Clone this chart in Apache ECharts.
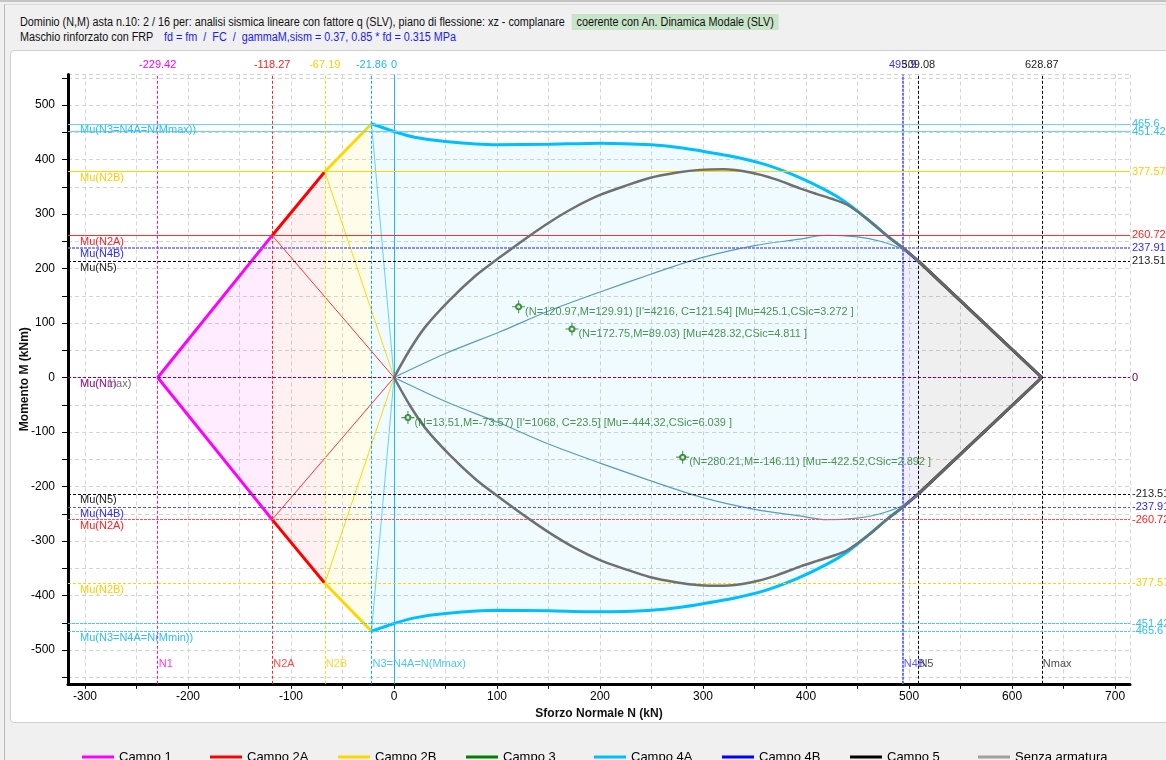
<!DOCTYPE html>
<html><head><meta charset="utf-8">
<script src="https://cdn.jsdelivr.net/npm/echarts@6/dist/echarts.min.js"></script>
<style>
html,body{margin:0;padding:0;width:1166px;height:760px;overflow:hidden;background:#f0f0f0;font-family:"Liberation Sans",Arial,sans-serif;}
#topbar{position:absolute;left:0;top:0;width:1166px;height:2px;background:#c4c4c4}
#frame{position:absolute;left:4px;top:4px;width:1200px;height:800px;border-left:1px solid #b8b8b8;border-top:1px solid #dadada}
.hdr{position:absolute;left:20px;font-size:12px;line-height:14px;color:#111;white-space:nowrap;transform:scaleX(0.9);transform-origin:0 0}
#badge{background:#c9e5c9;padding:1px 5px;margin-left:8px}
.blue{color:#1a1aff;margin-left:12px}
#panel{position:absolute;left:10px;top:50px;width:1200px;height:671px;background:#fff;border:1px solid #cfcfcf;border-radius:4px}
#chart{position:absolute;left:0;top:0;width:1166px;height:760px}
</style></head>
<body>
<div id="topbar"></div>
<div id="frame"></div>
<div class="hdr" style="top:15px">Dominio (N,M) asta n.10: 2 / 16 per: analisi sismica lineare con fattore q (SLV), piano di flessione: xz - complanare<span id="badge">coerente con An. Dinamica Modale (SLV)</span></div>
<div class="hdr" style="top:30px">Maschio rinforzato con FRP<span class="blue">fd = fm &nbsp;/&nbsp; FC &nbsp;/&nbsp; gammaM,sism = 0.37, 0.85 * fd = 0.315 MPa</span></div>
<div id="panel"></div>
<div id="chart"></div>
<script>
// ---------------- data ----------------
const N_VLINES = [-229.42, -118.27, -67.19, -21.86, 0, 493.9, 509.08, 628.87];
const N_TOP_LABELS = ['-229.42', '-118.27', '-67.19', '-21.86', '0', '493.9', '509.08', '628.87'];
const N_BOTTOM_LABELS = ['N1', 'N2A', 'N2B', 'N3=N4A=N(Mmax)', '', 'N4B', 'N5', 'Nmax'];
const N_BOTTOM_M = -525;

const M_LEVELS = [465.6, 451.42, 377.57, 260.72, 237.91, 213.51, 0, -213.51, -237.91, -260.72, -377.57, -451.42, -465.6];
const M_RIGHT_LABELS = ['465.6', '451.42', '377.57', '260.72', '237.91', '213.51', '0', '-213.51', '-237.91', '-260.72', '-377.57', '-451.42', '-465.6'];
const M_LEFT_LABELS = ['Mu(N3=N4A=N(Mmax))', '', 'Mu(N2B)', 'Mu(N2A)', 'Mu(N4B)', 'Mu(N5)', 'Mu(Nmax)', 'Mu(N5)', 'Mu(N4B)', 'Mu(N2A)', 'Mu(N2B)', '', 'Mu(N3=N4A=N(Mmin))'];

const campo1Up = [[-229.42, 0], [-118.27, 260.72]];
const campo1Lo = [[-229.42, 0], [-118.27, -260.72]];
const campo2AUp = [[-118.27, 260.72], [-67.19, 377.57]];
const campo2ALo = [[-118.27, -260.72], [-67.19, -377.57]];
const campo2BUp = [[-67.19, 377.57], [-21.86, 465.6]];
const campo2BLo = [[-67.19, -377.57], [-21.86, -465.6]];
const campo4AUp = [[-21.86, 465.6], [0, 451.42], [20, 441], [50, 433], [100, 427], [150, 428], [200, 430], [250, 427], [280, 421], [300, 415], [330, 405], [360, 391], [390, 370], [420, 343], [440, 320], [460, 290], [480, 258], [493.9, 237.91]];
const campo4ALo = [[-21.86, -465.6], [0, -451.42], [20, -441], [50, -433], [100, -427], [150, -428], [200, -430], [250, -427], [280, -421], [300, -415], [330, -405], [360, -391], [390, -370], [420, -343], [440, -320], [460, -290], [480, -258], [493.9, -237.91]];
const campo4BUp = [[493.9, 237.91], [509.08, 213.51]];
const campo4BLo = [[493.9, -237.91], [509.08, -213.51]];
const campo5Up = [[509.08, 213.51], [628.87, 0]];
const campo5Lo = [[509.08, -213.51], [628.87, 0]];

const senzaUp = [[0, 0], [15, 50], [30, 92], [54, 142], [80, 188], [103, 221], [130, 258], [151, 285], [175, 312], [200, 335], [225, 352], [248, 366], [275, 376], [297, 381], [320, 382], [346, 376], [370, 364], [394, 347], [410, 337], [425, 328], [440, 317], [460, 290], [480, 258], [493.9, 238], [509.08, 213.51]];
const senzaLo = [[0, 0], [15, -50], [30, -92], [54, -142], [80, -188], [103, -221], [130, -258], [151, -285], [175, -312], [200, -335], [225, -352], [248, -366], [275, -376], [297, -381], [320, -382], [346, -376], [370, -364], [394, -347], [410, -337], [425, -328], [440, -317], [460, -290], [480, -258], [493.9, -238], [509.08, -213.51]];
const thinUp = [[0, 0], [50, 44], [103, 84], [150, 122], [200, 157], [250, 190], [297, 219], [350, 242], [394, 254], [420, 261], [450, 258], [472, 250], [494, 235], [509.08, 213.51]];
const thinLo = [[0, 0], [50, -44], [103, -84], [150, -122], [200, -157], [250, -190], [297, -219], [350, -242], [394, -254], [420, -261], [450, -258], [472, -250], [494, -235], [509.08, -213.51]];

const ray2A = [[-118.27, 260.72], [0, 0], [-118.27, -260.72]];
const ray2B = [[-67.19, 377.57], [0, 0], [-67.19, -377.57]];
const ray3 = [[-21.86, 465.6], [0, 0], [-21.86, -465.6]];

const verifPoints = [[120.97, 129.91], [172.75, 89.03], [13.51, -73.57], [280.21, -146.11]];
const verifLabels = [
  "(N=120.97,M=129.91) [I'=4216, C=121.54] [Mu=425.1,CSic=3.272 ]",
  "(N=172.75,M=89.03) [Mu=428.32,CSic=4.811 ]",
  "(N=13.51,M=-73.57) [I'=1068, C=23.5] [Mu=-444.32,CSic=6.039 ]",
  "(N=280.21,M=-146.11) [Mu=-422.52,CSic=2.892 ]"
];
const legendNames = ['Campo 1', 'Campo 2A', 'Campo 2B', 'Campo 3', 'Campo 4A', 'Campo 4B', 'Campo 5', 'Senza armatura'];

// ---------------- styles ----------------
const FONT = '"Liberation Sans",Arial,sans-serif';
const C = {mag: '#ff00ff', red: '#ff0000', gold: '#ffd700', green: '#008000', cyan: '#00bfff', blue: '#0000ff', black: '#000000', gray: '#a0a0a0'};
const legendColors = [C.mag, C.red, C.gold, C.green, C.cyan, C.blue, C.black, C.gray];
const vStyle = [
  {color: '#ff00ff', type: [3, 2], width: 1},
  {color: '#ff2020', type: [3, 2], width: 1},
  {color: '#ffd700', type: [3, 2], width: 1},
  {color: '#00b0f0', type: [3, 2], width: 1},
  {color: '#20b8f0', type: 'solid', width: 1},
  {color: '#7070ff', type: [3, 1], width: 2},
  {color: '#000000', type: [3, 2], width: 1},
  {color: '#000000', type: [3, 2], width: 1}
];
const vLabelColor = ['#ff00ff', '#ff2020', '#ffcc00', '#20b8f0', '#20b8f0', '#3333ff', '#222', '#222'];
const hStyle = [
  {color: '#66d4ff', type: 'solid', width: 1},
  {color: '#66d4ff', type: 'solid', width: 1},
  {color: '#ffd700', type: 'solid', width: 1},
  {color: '#ff3030', type: 'solid', width: 1},
  {color: '#6a6aff', type: [3, 1], width: 1.5},
  {color: '#000000', type: [3, 2], width: 1},
  {color: '#800080', type: [3, 2], width: 1},
  {color: '#000000', type: [3, 2], width: 1},
  {color: '#5050ff', type: [3, 2], width: 1},
  {color: '#ff5050', type: [3, 1], width: 1},
  {color: '#ffd700', type: [3, 2], width: 1},
  {color: '#44c8ff', type: [3, 1], width: 1},
  {color: '#44c8ff', type: [3, 1], width: 1}
];
const hLabelColor = ['#2ec0f0', '#2ec0f0', '#ffcc00', '#ff2020', '#2a2aff', '#222', '#600060', '#222', '#2a2aff', '#ff2020', '#ffcc00', '#2ec0f0', '#2ec0f0'];
const HIDDEN = {color: 'rgba(0,0,0,0)', width: 0};

const markData = [];
N_VLINES.forEach((v, i) => {
  markData.push({xAxis: v, lineStyle: vStyle[i],
    label: {show: true, position: 'end', formatter: N_TOP_LABELS[i], color: vLabelColor[i], fontSize: 11, fontFamily: FONT, distance: 4}});
});
M_LEVELS.forEach((v, i) => {
  markData.push({yAxis: v, lineStyle: hStyle[i],
    label: {show: true, position: 'end', formatter: M_RIGHT_LABELS[i], color: hLabelColor[i], fontSize: 11, fontFamily: FONT, distance: 2}});
});
M_LEVELS.forEach((v, i) => {
  if (M_LEFT_LABELS[i]) {
    markData.push({yAxis: v, lineStyle: HIDDEN,
      label: {show: true, position: 'insideStartBottom', formatter: M_LEFT_LABELS[i], color: i === 6 ? 'rgba(0,0,0,0.6)' : hLabelColor[i], fontSize: 11, fontFamily: FONT, distance: 1, padding: [0, 0, 0, 11]}});
  }
});
markData.push({yAxis: 0, lineStyle: HIDDEN,
  label: {show: true, position: 'insideStartBottom', formatter: 'Mu(N1)', color: 'rgba(190,0,190,0.75)', fontSize: 11, fontFamily: FONT, distance: 1, padding: [0, 0, 0, 11]}});

function field(name, up, lo, color, fill, smooth) {
  const base = {type: 'line', name: name, color: color, symbol: 'none', silent: true, smooth: smooth || false,
    itemStyle: {color: color}, lineStyle: {color: color, width: 3}, areaStyle: {color: fill}, z: 3};
  return [Object.assign({data: up}, base), Object.assign({data: lo}, base)];
}
function curve(name, data, color, width, smooth, z) {
  return {type: 'line', name: name, data: data, color: color, symbol: 'none', silent: true,
    smooth: smooth, itemStyle: {color: color}, lineStyle: {color: color, width: width}, z: z};
}

const series = [].concat(
  field('Campo 1', campo1Up, campo1Lo, C.mag, 'rgba(255,0,255,0.10)'),
  field('Campo 2A', campo2AUp, campo2ALo, C.red, 'rgba(255,0,0,0.08)'),
  field('Campo 2B', campo2BUp, campo2BLo, C.gold, 'rgba(255,215,0,0.12)'),
  [{type: 'line', name: 'Campo 3', color: C.green, data: [], symbol: 'none', itemStyle: {color: C.green}, lineStyle: {color: C.green, width: 3}}],
  field('Campo 4A', campo4AUp, campo4ALo, C.cyan, 'rgba(0,191,255,0.09)', 0.2),
  field('Campo 4B', campo4BUp, campo4BLo, C.blue, 'rgba(0,0,255,0.09)'),
  field('Campo 5', campo5Up, campo5Lo, C.black, 'rgba(0,0,0,0.09)'),
  [
    curve('', ray2A, '#ff3030', 1, false, 4),
    curve('', ray2B, '#ffd700', 1, false, 4),
    curve('', ray3, '#60d0ff', 1, false, 4),
    curve('', thinUp, '#5a9cb8', 1.2, 0.3, 4),
    curve('', thinLo, '#5a9cb8', 1.2, 0.3, 4),
    curve('Senza armatura', senzaUp, '#707070', 2.5, 0.25, 5),
    curve('Senza armatura', senzaLo, '#707070', 2.5, 0.25, 5),
    curve('Senza armatura', campo5Up, '#666666', 3, false, 5),
    curve('Senza armatura', campo5Lo, '#666666', 3, false, 5),
    {type: 'line', name: '', data: [], silent: true, z: 2,
      markLine: {symbol: ['none', 'none'], silent: true, animation: false, data: markData}},
    {type: 'scatter', name: '', silent: true, z: 6, symbolSize: 0,
      data: N_BOTTOM_LABELS.map((t, i) => ({value: [N_VLINES[i], N_BOTTOM_M],
        label: {show: !!t, formatter: t, position: 'right', distance: 1, color: vLabelColor[i], fontSize: 11, fontFamily: FONT}}))},
    {type: 'scatter', name: '', silent: true, z: 7,
      symbol: 'path://M4.6,0h0.8v4.6h4.6v0.8h-4.6v4.6h-0.8v-4.6h-4.6v-0.8h4.6z', symbolSize: 13,
      itemStyle: {color: '#1f7a1f'},
      data: verifPoints.map((p, i) => ({value: p,
        label: {show: true, formatter: verifLabels[i], position: 'right', distance: 0, offset: [0, 5], color: '#1f7a1f', fontSize: 11, fontFamily: FONT}}))},
    {type: 'scatter', name: '', silent: true, z: 7, symbol: 'emptyCircle', symbolSize: 5,
      itemStyle: {color: '#1f7a1f', borderColor: '#1f7a1f', borderWidth: 1}, data: verifPoints}
  ]
);

const legends = legendNames.map((n, i) => ({
  data: [{name: n, icon: 'path://M0,0M32,14M0,5.5L32,5.5L32,8.5L0,8.5Z',
    itemStyle: {color: legendColors[i], borderWidth: 0, opacity: 1}}],
  left: 82 + 128 * i, top: 750, padding: 0, itemWidth: 32, itemHeight: 14, selectedMode: false,
  textStyle: {fontSize: 13, color: '#000', fontFamily: FONT}
}));

const chart = echarts.init(document.getElementById('chart'), null, {renderer: 'canvas'});
chart.setOption({
  animation: false,
  backgroundColor: 'transparent',
  textStyle: {fontFamily: FONT},
  grid: {left: 68, top: 74.5, right: 36, bottom: 76.2, containLabel: false},
  legend: legends,
  xAxis: {
    type: 'value', min: -316.5, max: 714.5, splitNumber: 20, minInterval: 50, maxInterval: 50,
    name: 'Sforzo Normale N (kN)', nameLocation: 'middle', nameGap: 23,
    nameTextStyle: {fontWeight: 'bold', fontSize: 12, color: '#111', fontFamily: FONT},
    axisLine: {onZero: false, lineStyle: {color: '#000', width: 3}},
    axisTick: {show: true, length: 5, lineStyle: {color: '#000', width: 1}},
    axisLabel: {showMinLabel: false, showMaxLabel: false, margin: 7, fontSize: 12, color: '#000', fontFamily: FONT,
      formatter: v => (Math.round(v) % 100 === 0 ? String(Math.round(v)) : '')},
    splitLine: {show: true, lineStyle: {color: '#d4d4d4', type: [4, 3], width: 1}}
  },
  yAxis: {
    type: 'value', min: -562, max: 556, splitNumber: 22, minInterval: 50, maxInterval: 50,
    name: 'Momento M (kNm)', nameLocation: 'middle', nameGap: 37, nameMoveOverlap: false,
    nameTextStyle: {fontWeight: 'bold', fontSize: 12, color: '#111', fontFamily: FONT},
    axisLine: {onZero: false, lineStyle: {color: '#000', width: 3}},
    axisTick: {show: true, length: 6, lineStyle: {color: '#000', width: 1}},
    axisLabel: {showMinLabel: false, showMaxLabel: false, margin: 13, fontSize: 12, color: '#000', fontFamily: FONT,
      formatter: v => (Math.round(v) % 100 === 0 ? String(Math.round(v)) : '')},
    splitLine: {show: true, lineStyle: {color: '#d4d4d4', type: [4, 3], width: 1}}
  },
  series: series
});
</script>
</body></html>
